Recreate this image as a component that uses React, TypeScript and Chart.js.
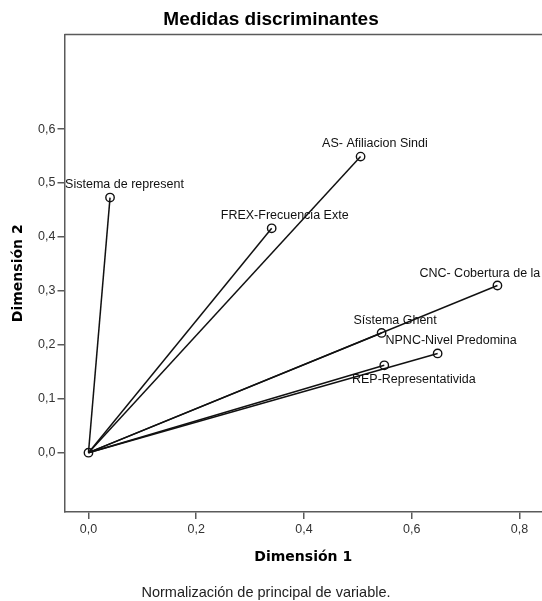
import { useEffect, useRef } from 'react';
import { Chart, registerables } from 'chart.js';

Chart.register(...registerables);

const chartTitle = 'Medidas discriminantes';
const footnote = 'Normalización de principal de variable.';
const xTitle = 'Dimensión 1';
const yTitle = 'Dimensión 2';

const variables = [
  'Sistema de represent',
  'FREX-Frecuencia Exte',
  'AS- Afiliacion Sindi',
  'CNC- Cobertura de la',
  'Sístema Ghent',
  'NPNC-Nivel Predomina',
  'REP-Representativida',
];
const dimension1 = [0.04, 0.34, 0.505, 0.759, 0.544, 0.648, 0.549];
const dimension2 = [0.473, 0.416, 0.549, 0.31, 0.222, 0.184, 0.162];

const xTickValues = [0, 0.2, 0.4, 0.6, 0.8];
const yTickValues = [0, 0.1, 0.2, 0.3, 0.4, 0.5, 0.6];
const xRange = [-0.0445, 0.8417];
const yRange = [-0.11, 0.7754];

// label text-centre offsets (px) relative to each point
const labelOffsets = [
  [14.5, -12.7],
  [13, -13.2],
  [14.3, -13.2],
  [-17.6, -11.9],
  [13.5, -12.5],
  [13.5, -12.5],
  [29.5, 13.8],
];

const fmt = (v: number) => Number(v).toFixed(1).replace('.', ',');

const AXIS_COLOR = '#5a5a5a';

export default function App() {
  const ref = useRef<HTMLCanvasElement>(null);

  useEffect(() => {
    if (!ref.current) return;
    Chart.defaults.font.family = 'Liberation Sans';

    const lineSets = variables.map((name, i) => ({
      label: name,
      data: [
        { x: 0, y: 0 },
        { x: dimension1[i], y: dimension2[i] },
      ],
      showLine: true,
      borderColor: '#111',
      borderWidth: 1.5,
      pointRadius: 0,
      pointHoverRadius: 0,
    }));

    const pointSet = {
      label: 'points',
      data: [{ x: 0, y: 0 }, ...variables.map((_, i) => ({ x: dimension1[i], y: dimension2[i] }))],
      showLine: false,
      pointRadius: 4.2,
      pointStyle: 'circle',
      pointBackgroundColor: 'rgba(255,255,255,0)',
      pointBorderColor: '#111',
      pointBorderWidth: 1.4,
    };

    const labelPlugin = {
      id: 'pointLabels',
      afterDatasetsDraw(chart: any) {
        const ctx = chart.ctx;
        const meta = chart.getDatasetMeta(variables.length);
        ctx.save();
        ctx.font = '12.5px "Liberation Sans"';
        ctx.fillStyle = '#111';
        ctx.textAlign = 'center';
        ctx.textBaseline = 'middle';
        variables.forEach((name, i) => {
          const el = meta.data[i + 1];
          const [dx, dy] = labelOffsets[i];
          ctx.fillText(name, el.x + dx, el.y + dy);
        });
        ctx.restore();
      },
    };

    const framePlugin = {
      id: 'frameAndNote',
      afterDraw(chart: any) {
        const { ctx, chartArea, width, height } = chart;
        ctx.save();
        ctx.strokeStyle = AXIS_COLOR;
        ctx.lineWidth = 1.5;
        ctx.beginPath();
        ctx.moveTo(chartArea.left, chartArea.top);
        ctx.lineTo(chartArea.right, chartArea.top);
        ctx.stroke();
        ctx.font = '14.5px "Liberation Sans"';
        ctx.fillStyle = '#222';
        ctx.textAlign = 'center';
        ctx.textBaseline = 'middle';
        ctx.fillText(footnote, width / 2 - 5, height - 8);
        ctx.restore();
      },
    };

    const chart = new Chart(ref.current, {
      type: 'scatter',
      data: { datasets: [...lineSets, pointSet] as any },
      plugins: [labelPlugin, framePlugin],
      options: {
        responsive: false,
        animation: false,
        devicePixelRatio: 1,
        layout: { padding: 0, autoPadding: false },
        plugins: {
          legend: { display: false },
          tooltip: { enabled: false },
          title: {
            display: true,
            text: chartTitle,
            color: '#000',
            font: { family: 'Liberation Sans', size: 19, weight: 'bold' },
            padding: { top: 8, bottom: 3.7 },
          },
        },
        scales: {
          x: {
            type: 'linear',
            min: xRange[0],
            max: xRange[1],
            afterBuildTicks: (s: any) => {
              s.ticks = xTickValues.map((value) => ({ value }));
            },
            afterFit: (s: any) => {
              s.height = 89;
              s.paddingLeft = 0;
              s.paddingRight = 0;
            },
            ticks: {
              callback: (v: any) => fmt(v),
              color: '#333',
              font: { family: 'Liberation Sans', size: 12.5 },
              padding: 3,
              maxRotation: 0,
              autoSkip: false,
            },
            grid: {
              drawOnChartArea: false,
              drawTicks: true,
              tickLength: 7,
              color: AXIS_COLOR,
              lineWidth: 1.5,
            },
            border: { display: true, color: AXIS_COLOR, width: 1.5 },
            title: {
              display: true,
              text: xTitle,
              color: '#000',
              font: { family: 'DejaVu Sans', size: 14, weight: 'bold' },
              padding: { top: 0, bottom: 35 },
            },
          },
          y: {
            type: 'linear',
            min: yRange[0],
            max: yRange[1],
            afterBuildTicks: (s: any) => {
              s.ticks = yTickValues.map((value) => ({ value }));
            },
            afterFit: (s: any) => {
              s.width = 64.5;
              s.paddingTop = 0;
              s.paddingBottom = 0;
            },
            ticks: {
              callback: (v: any) => fmt(v),
              color: '#333',
              font: { family: 'Liberation Sans', size: 12.5 },
              padding: 2,
              autoSkip: false,
            },
            grid: {
              drawOnChartArea: false,
              drawTicks: true,
              tickLength: 7,
              color: AXIS_COLOR,
              lineWidth: 1.5,
            },
            border: { display: true, color: AXIS_COLOR, width: 1.5 },
            title: {
              display: true,
              text: yTitle,
              color: '#000',
              font: { family: 'DejaVu Sans', size: 14, weight: 'bold' },
              padding: { top: 9.6, bottom: 0 },
            },
          },
        },
      } as any,
    });

    return () => chart.destroy();
  }, []);

  return (
    <canvas
      ref={ref}
      width={542}
      height={601}
      style={{ position: 'absolute', left: 0, top: 0, display: 'block' }}
    />
  );
}
